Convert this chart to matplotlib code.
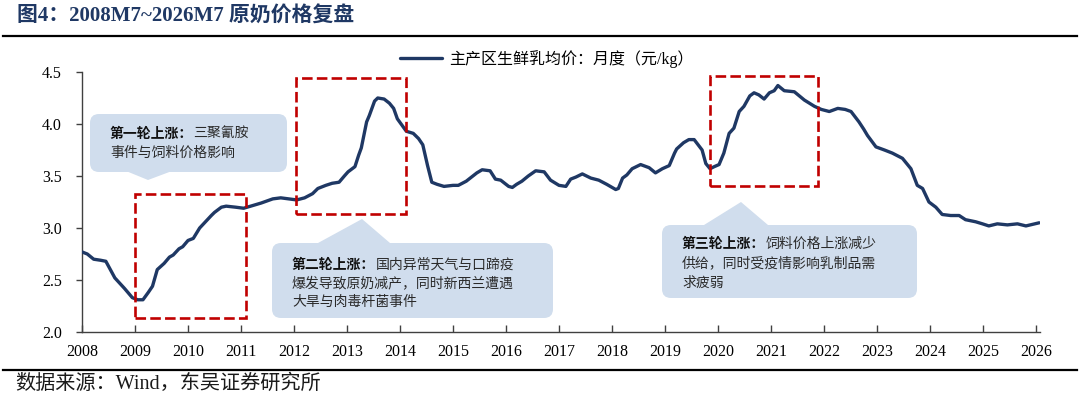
import matplotlib
matplotlib.use("Agg")
import matplotlib.pyplot as plt
from matplotlib.patches import FancyBboxPatch, Polygon, Rectangle
from matplotlib.transforms import IdentityTransform

plt.rcParams['font.family'] = ['Liberation Serif', 'Noto Sans CJK SC']
plt.rcParams['axes.unicode_minus'] = False

# data (decimal year, yuan/kg)
year = [2008.00, 2008.10, 2008.22, 2008.35, 2008.45, 2008.62, 2008.80, 2008.95, 2009.05,
        2009.15, 2009.25, 2009.33, 2009.42, 2009.55, 2009.65, 2009.72, 2009.83, 2009.90,
        2010.00, 2010.10, 2010.22, 2010.33, 2010.44, 2010.50, 2010.63, 2010.72, 2010.90,
        2011.05, 2011.25, 2011.38, 2011.60, 2011.75, 2011.90, 2012.05, 2012.20, 2012.35,
        2012.45, 2012.60, 2012.72, 2012.85, 2012.95, 2013.02, 2013.15, 2013.22, 2013.27,
        2013.37, 2013.42, 2013.52, 2013.58, 2013.70, 2013.80, 2013.88, 2013.95, 2014.02,
        2014.12, 2014.25, 2014.35, 2014.43, 2014.52, 2014.60, 2014.70, 2014.83, 2015.00,
        2015.10, 2015.25, 2015.35, 2015.45, 2015.55, 2015.70, 2015.80, 2015.90, 2016.05,
        2016.12, 2016.20, 2016.30, 2016.42, 2016.56, 2016.72, 2016.84, 2017.00, 2017.13,
        2017.22, 2017.32, 2017.44, 2017.60, 2017.75, 2017.90, 2018.07, 2018.12, 2018.20,
        2018.28, 2018.38, 2018.54, 2018.70, 2018.82, 2018.95, 2019.08, 2019.18, 2019.22,
        2019.35, 2019.45, 2019.55, 2019.64, 2019.70, 2019.77, 2019.85, 2019.93, 2020.02,
        2020.11, 2020.21, 2020.30, 2020.40, 2020.49, 2020.60, 2020.68, 2020.77, 2020.87,
        2020.97, 2021.06, 2021.13, 2021.25, 2021.44, 2021.63, 2021.82, 2021.95, 2022.10,
        2022.26, 2022.40, 2022.51, 2022.66, 2022.75, 2022.82, 2022.98, 2023.14, 2023.29,
        2023.48, 2023.64, 2023.76, 2023.86, 2023.98, 2024.11, 2024.23, 2024.39, 2024.55,
        2024.67, 2024.86, 2024.99, 2025.11, 2025.27, 2025.46, 2025.65, 2025.81, 2026.06]
price = [2.77, 2.75, 2.70, 2.69, 2.68, 2.52, 2.42, 2.33, 2.31,
         2.31, 2.38, 2.44, 2.60, 2.66, 2.72, 2.74, 2.80, 2.82,
         2.88, 2.90, 3.00, 3.06, 3.12, 3.15, 3.20, 3.21, 3.20,
         3.19, 3.22, 3.24, 3.28, 3.29, 3.28, 3.27, 3.29, 3.33,
         3.38, 3.41, 3.43, 3.44, 3.50, 3.54, 3.59, 3.70, 3.77,
         4.02, 4.08, 4.22, 4.25, 4.24, 4.20, 4.15, 4.05, 4.00,
         3.93, 3.91, 3.86, 3.80, 3.60, 3.44, 3.42, 3.40, 3.41,
         3.41, 3.45, 3.49, 3.53, 3.56, 3.55, 3.47, 3.46, 3.40,
         3.39, 3.42, 3.45, 3.50, 3.55, 3.54, 3.46, 3.41, 3.40,
         3.47, 3.49, 3.52, 3.48, 3.46, 3.42, 3.37, 3.38, 3.48,
         3.51, 3.57, 3.61, 3.58, 3.53, 3.57, 3.60, 3.72, 3.76,
         3.82, 3.85, 3.85, 3.79, 3.75, 3.62, 3.57, 3.59, 3.61,
         3.72, 3.91, 3.96, 4.12, 4.17, 4.27, 4.30, 4.28, 4.24,
         4.30, 4.32, 4.37, 4.32, 4.31, 4.23, 4.17, 4.14, 4.12,
         4.15, 4.14, 4.12, 4.02, 3.95, 3.89, 3.78, 3.75, 3.72,
         3.67, 3.57, 3.41, 3.38, 3.25, 3.20, 3.13, 3.12, 3.12,
         3.08, 3.06, 3.04, 3.02, 3.04, 3.03, 3.04, 3.02, 3.05]

tick_years = list(range(2008, 2027))

# dashed boxes: (start year, end year, low, high)
rounds = [(2009.00, 2011.09, 2.13, 3.33),
          (2012.04, 2014.11, 3.13, 4.44),
          (2019.85, 2021.89, 3.40, 4.46)]

title = "图4：2008M7~2026M7 原奶价格复盘"
series_name = "主产区生鲜乳均价：月度（元/kg）"
source = "数据来源：Wind，东吴证券研究所"

notes = [("第一轮上涨：", ["三聚氰胺", "事件与饲料价格影响"]),
         ("第二轮上涨：", ["国内异常天气与口蹄疫", "爆发导致原奶减产，同时新西兰遭遇", "大旱与肉毒杆菌事件"]),
         ("第三轮上涨：", ["饲料价格上涨减少", "供给，同时受疫情影响乳制品需", "求疲弱"])]

W, H = 1080, 400
navy = '#1F3864'
red = '#C00000'
note_bg = '#D0DDED'

fig = plt.figure(figsize=(W / 100, H / 100), dpi=100)
ax = fig.add_axes([82 / W, (H - 332) / H, (1040 - 82) / W, (332 - 72) / H])

ax.plot(year, price, color=navy, lw=2.4, label=series_name, solid_capstyle='round', zorder=3)

for x0, x1, y0, y1 in rounds:
    ax.add_patch(Rectangle((x0, y0), x1 - x0, y1 - y0, fill=False, ec=red, lw=1.9,
                           ls=(0, (4, 1.6)), zorder=4))

ax.set_xlim(2008, 2026 + 4 / 53)
ax.set_ylim(2.0, 4.5)
ax.set_xticks(tick_years)
ax.set_xticklabels([str(y) for y in tick_years])
ax.set_yticks([2.0, 2.5, 3.0, 3.5, 4.0, 4.5])
ax.set_yticklabels(["2.0", "2.5", "3.0", "3.5", "4.0", "4.5"])
for s in ['top', 'right']:
    ax.spines[s].set_visible(False)
for s in ['left', 'bottom']:
    ax.spines[s].set_color('#404040')
    ax.spines[s].set_linewidth(1.0)
ax.tick_params(axis='x', direction='in', length=5, width=1, color='#404040', pad=9, labelsize=11.5)
ax.tick_params(axis='y', direction='out', length=4.5, width=1, color='#404040', pad=10, labelsize=11.5)
ax.patch.set_alpha(0)

fig.legend(loc='center left', bbox_to_anchor=(400 / W, 1 - 59 / H), frameon=False,
           handlelength=2.6, handletextpad=0.5, borderpad=0, borderaxespad=0, fontsize=11.5)

ident = IdentityTransform()


def callout(box, tip, base, head, lines, text_xy, fs=10, gap=19):
    x0, y0, x1, y1 = box
    fig.add_artist(FancyBboxPatch((x0, H - y1), x1 - x0, y1 - y0,
                                  boxstyle="round,pad=0,rounding_size=9",
                                  transform=ident, fc=note_bg, ec='none', zorder=1))
    fig.add_artist(Polygon([(base[0], H - base[2]), (tip[0], H - tip[1]), (base[1], H - base[2])],
                           closed=True, transform=ident, fc=note_bg, ec='none', zorder=1))
    em = fs * 100 / 72
    tx, ty = text_xy
    fig.text(tx, H - ty, head, transform=ident, fontsize=fs, fontweight='bold',
             color='#111111', va='center', ha='left')
    fig.text(tx + len(head) * em, H - ty, lines[0], transform=ident, fontsize=fs,
             color='#2a2a2a', va='center', ha='left')
    for i, ln in enumerate(lines[1:]):
        fig.text(tx, H - ty - gap * (i + 1), ln, transform=ident, fontsize=fs,
                 color='#2a2a2a', va='center', ha='left')


callout((90, 114, 287, 172), (148, 180), (126, 172, 171), notes[0][0], notes[0][1], (110, 134), gap=19)
callout((272, 243, 553, 318), (362, 219), (318, 390, 243), notes[1][0], notes[1][1], (292, 265), gap=18.5)
callout((662, 225, 917, 298), (741, 202), (704, 768, 225), notes[2][0], notes[2][1], (682, 244), gap=19.5)

# title, rules and source
fig.text(17, H - 17, title, transform=ident, fontsize=15, fontweight='bold', color=navy,
         va='center', ha='left')
fig.add_artist(plt.Line2D([3, 1077], [H - 36, H - 36], transform=ident, color='black', lw=1.6))
fig.add_artist(plt.Line2D([3, 1077], [H - 370, H - 370], transform=ident, color='black', lw=1.6))
fig.text(15, H - 384, source, transform=ident, fontsize=14.5, color='#1a1a1a', va='center', ha='left')

fig.savefig("out.png", dpi=100)
